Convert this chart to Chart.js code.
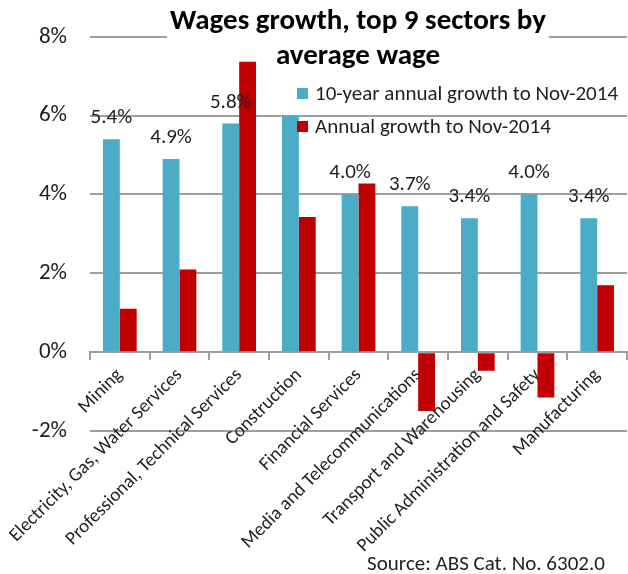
<!DOCTYPE html>
<html>
<head>
<meta charset="utf-8">
<script src="https://cdn.jsdelivr.net/npm/chart.js@4.4.1/dist/chart.umd.min.js"></script>
<style>
  html, body { margin: 0; padding: 0; background: #fff; }
  #wrap { width: 628px; height: 574px; position: relative; }
</style>
</head>
<body>
<div id="wrap"><canvas id="wagesChart"></canvas></div>
<script>
const sectors = [
    'Mining',
    'Electricity, Gas, Water Services',
    'Professional, Technical Services',
    'Construction',
    'Financial Services',
    'Media and Telecommunications',
    'Transport and Warehousing',
    'Public Administration and Safety',
    'Manufacturing'
];
const tenYearGrowth = [5.4, 4.9, 5.8, 6.0, 4.0, 3.7, 3.4, 4.0, 3.4];
const annualGrowth = [1.1, 2.1, 7.37, 3.43, 4.28, -1.49, -0.47, -1.15, 1.7];
const seriesNames = ['10-year annual growth to Nov-2014', 'Annual growth to Nov-2014'];
const titleLines = ['Wages growth, top 9 sectors by', 'average wage'];
const sourceNote = 'Source: ABS Cat. No. 6302.0';
// the legend sits on top of this bar's label in the original
const unlabelled = ['Construction'];

const FONT = 'Carlito, Lato, sans-serif';
const BLUE = '#4BACC6';
const RED = '#C00000';
const GRID = '#9E9E9E';
const TEXT = '#1e1e1e';

const overlay = {
    id: 'overlay',
    beforeDatasetsDraw(chart) {
        // white box behind the title hides the gridlines, not the bars
        const ctx = chart.ctx;
        ctx.save();
        ctx.font = 'bold 29px ' + FONT;
        ctx.fillStyle = '#fff';
        const w = ctx.measureText(titleLines[0]).width;
        ctx.fillRect(358 - w / 2 - 3, 4, w + 6, 36);
        ctx.restore();
    },
    afterDatasetsDraw(chart) {
        const ctx = chart.ctx;
        ctx.save();
        ctx.font = '21px ' + FONT;
        ctx.fillStyle = TEXT;
        ctx.textAlign = 'center';
        ctx.textBaseline = 'alphabetic';
        chart.getDatasetMeta(0).data.forEach((bar, i) => {
            if (unlabelled.includes(sectors[i])) return;
            ctx.fillText(tenYearGrowth[i].toFixed(1) + '%', bar.x, bar.y - 16);
        });
        ctx.restore();
    },
    afterDraw(chart) {
        const ctx = chart.ctx;
        ctx.save();
        ctx.fillStyle = '#000';
        ctx.textAlign = 'center';
        ctx.textBaseline = 'alphabetic';
        ctx.font = 'bold 29px ' + FONT;
        ctx.fillText(titleLines[0], 358, 29);
        ctx.fillText(titleLines[1], 358, 64);

        // legend
        ctx.font = '21px ' + FONT;
        ctx.textAlign = 'left';
        chart.data.datasets.forEach((ds, i) => {
            const y = 88 + i * 33;
            ctx.fillStyle = ds.backgroundColor;
            ctx.fillRect(297, y, 11, 11);
            ctx.fillStyle = TEXT;
            ctx.fillText(ds.label, 315, y + 12);
        });

        ctx.font = '21px ' + FONT;
        ctx.textAlign = 'center';
        ctx.fillText(sourceNote, 486, 570);
        ctx.restore();
    }
};

const ctx = document.getElementById('wagesChart').getContext('2d');
new Chart(ctx, {
    type: 'bar',
    data: {
        labels: sectors,
        datasets: [{
            label: seriesNames[0],
            data: tenYearGrowth,
            backgroundColor: BLUE
        }, {
            label: seriesNames[1],
            data: annualGrowth,
            backgroundColor: RED
        }]
    },
    options: {
        responsive: true,
        maintainAspectRatio: false,
        animation: false,
        datasets: {
            bar: { categoryPercentage: 0.565, barPercentage: 1.0 }
        },
        layout: { padding: { left: 0, top: 33, right: 1, bottom: 143 } },
        plugins: {
            legend: { display: false },
            title: { display: false },
            tooltip: { enabled: false }
        },
        scales: {
            x: {
                position: { y: 0 },
                grid: {
                    drawOnChartArea: false,
                    drawTicks: true,
                    tickLength: 7,
                    color: GRID,
                    lineWidth: 2
                },
                border: { display: true, color: GRID, width: 2 },
                ticks: {
                    autoSkip: false,
                    minRotation: 45,
                    maxRotation: 45,
                    padding: 5,
                    color: TEXT,
                    font: { family: FONT, size: 19 }
                }
            },
            y: {
                min: -2,
                max: 8,
                afterFit: scale => { scale.width = 90; },
                grid: { color: GRID, lineWidth: 2, drawTicks: false },
                border: { display: false },
                ticks: {
                    stepSize: 2,
                    padding: 23,
                    color: TEXT,
                    font: { family: FONT, size: 23 },
                    callback: v => v + '%'
                }
            }
        }
    },
    plugins: [overlay]
});
</script>
</body>
</html>
